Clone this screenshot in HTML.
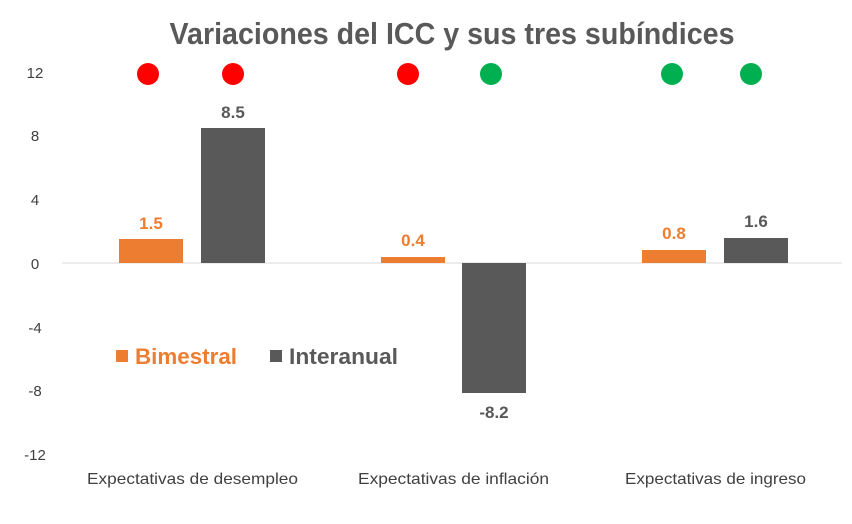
<!DOCTYPE html>
<html><head><meta charset="utf-8"><style>html,body{margin:0;padding:0;background:#fff}</style></head>
<body>
<svg width="852" height="519" xmlns="http://www.w3.org/2000/svg" font-family="Liberation Sans, sans-serif">
<rect width="852" height="519" fill="#fff"/>
<text x="452" y="44" text-anchor="middle" font-size="31" font-weight="bold" fill="#595959" textLength="565" lengthAdjust="spacingAndGlyphs">Variaciones del ICC y sus tres subíndices</text>
<g font-size="15" fill="#404040" text-anchor="middle">
<text x="35" y="78">12</text><text x="35" y="141">8</text><text x="35" y="205">4</text><text x="35" y="269">0</text>
<text x="35" y="333">-4</text><text x="35" y="396">-8</text><text x="35" y="460">-12</text>
</g>
<line x1="62" y1="263" x2="842" y2="263" stroke="#d9d9d9" stroke-width="1"/>
<rect x="119" y="239" width="64" height="24" fill="#ed7d31"/>
<rect x="201" y="128" width="64" height="135" fill="#595959"/>
<rect x="381" y="257" width="64" height="6" fill="#ed7d31"/>
<rect x="462" y="263" width="64" height="130" fill="#595959"/>
<rect x="642" y="250" width="64" height="13" fill="#ed7d31"/>
<rect x="724" y="238" width="64" height="25" fill="#595959"/>
<g font-size="17" font-weight="bold" text-anchor="middle">
<text x="151" y="229" fill="#ed7d31">1.5</text>
<text x="233" y="118" fill="#595959">8.5</text>
<text x="413" y="246" fill="#ed7d31">0.4</text>
<text x="494" y="418" fill="#595959">-8.2</text>
<text x="674" y="239" fill="#ed7d31">0.8</text>
<text x="756" y="227" fill="#595959">1.6</text>
</g>
<circle cx="148" cy="74" r="11" fill="#ff0000"/>
<circle cx="233" cy="74" r="11" fill="#ff0000"/>
<circle cx="408" cy="74" r="11" fill="#ff0000"/>
<circle cx="491" cy="74" r="11" fill="#00b050"/>
<circle cx="672" cy="74" r="11" fill="#00b050"/>
<circle cx="751" cy="74" r="11" fill="#00b050"/>
<rect x="116" y="350" width="12" height="12" fill="#ed7d31"/>
<text x="135" y="364" font-size="22" font-weight="bold" fill="#ed7d31" textLength="102" lengthAdjust="spacingAndGlyphs">Bimestral</text>
<rect x="270" y="350" width="12" height="12" fill="#595959"/>
<text x="289" y="364" font-size="22" font-weight="bold" fill="#595959" textLength="109" lengthAdjust="spacingAndGlyphs">Interanual</text>
<g font-size="16" fill="#404040">
<text x="87" y="484" textLength="211" lengthAdjust="spacingAndGlyphs">Expectativas de desempleo</text>
<text x="358" y="484" textLength="191" lengthAdjust="spacingAndGlyphs">Expectativas de inflación</text>
<text x="625" y="484" textLength="181" lengthAdjust="spacingAndGlyphs">Expectativas de ingreso</text>
</g>
</svg>
</body></html>
